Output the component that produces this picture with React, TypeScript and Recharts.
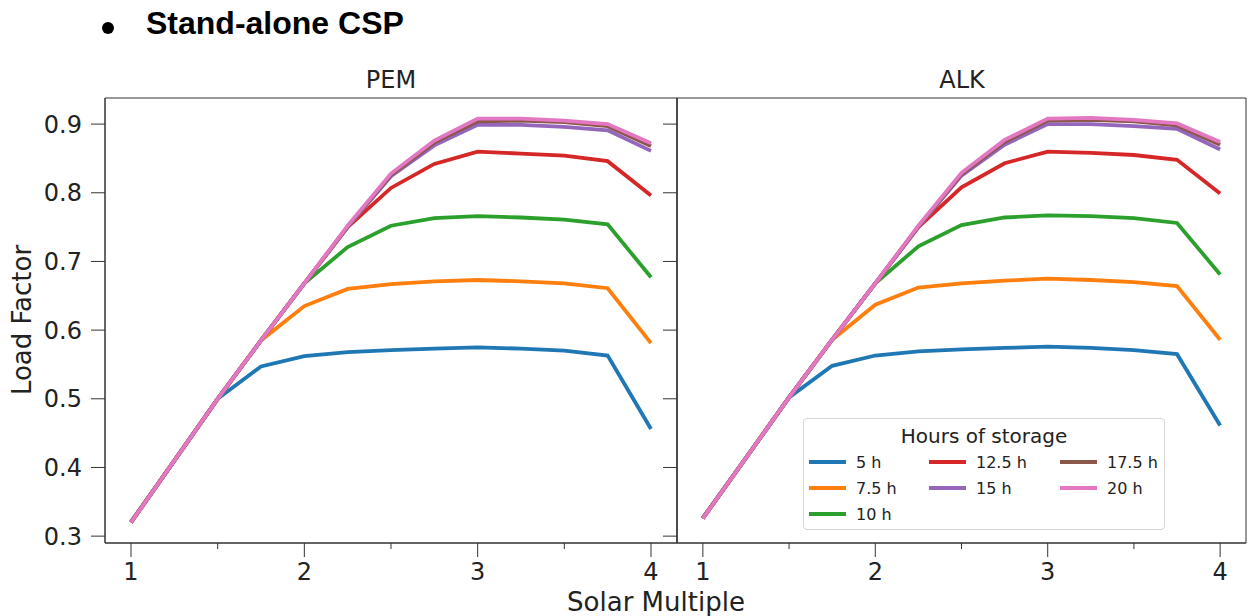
import { LineChart, Line, XAxis, YAxis, ReferenceArea, Legend } from "recharts";

const solarMultiple = [1, 1.25, 1.5, 1.75, 2, 2.25, 2.5, 2.75, 3, 3.25, 3.5, 3.75, 4];
const storageHours = ["5 h", "7.5 h", "10 h", "12.5 h", "15 h", "17.5 h", "20 h"];
const seriesColors = ["#1f77b4", "#ff7f0e", "#2ca02c", "#d62728", "#9467bd", "#8c564b", "#e377c2"];
const yTicks = [0.3, 0.4, 0.5, 0.6, 0.7, 0.8, 0.9];
const xTicks = [1, 1.5, 2, 2.5, 3, 3.5, 4];

// PEM load factor per hours of storage
const pem5h = [0.32, 0.41, 0.5, 0.547, 0.562, 0.568, 0.571, 0.573, 0.575, 0.573, 0.57, 0.563, 0.456];
const pem7h = [0.32, 0.41, 0.5, 0.585, 0.635, 0.66, 0.667, 0.671, 0.673, 0.671, 0.668, 0.661, 0.581];
const pem10h = [0.32, 0.41, 0.5, 0.585, 0.668, 0.721, 0.752, 0.763, 0.766, 0.764, 0.761, 0.754, 0.677];
const pem12h = [0.32, 0.41, 0.5, 0.585, 0.668, 0.75, 0.807, 0.842, 0.86, 0.857, 0.854, 0.846, 0.796];
const pem15h = [0.32, 0.41, 0.5, 0.585, 0.668, 0.75, 0.824, 0.869, 0.899, 0.899, 0.896, 0.891, 0.861];
const pem17h = [0.321, 0.41, 0.5, 0.585, 0.668, 0.751, 0.826, 0.873, 0.904, 0.905, 0.903, 0.897, 0.868];
const pem20h = [0.32, 0.41, 0.5, 0.585, 0.668, 0.752, 0.828, 0.876, 0.908, 0.908, 0.905, 0.9, 0.872];

// ALK load factor per hours of storage
const alk5h = [0.326, 0.414, 0.502, 0.548, 0.563, 0.569, 0.572, 0.574, 0.576, 0.574, 0.571, 0.565, 0.461];
const alk7h = [0.326, 0.414, 0.502, 0.586, 0.637, 0.662, 0.668, 0.672, 0.675, 0.673, 0.67, 0.664, 0.586];
const alk10h = [0.326, 0.414, 0.502, 0.586, 0.668, 0.722, 0.753, 0.764, 0.767, 0.766, 0.763, 0.756, 0.681];
const alk12h = [0.326, 0.414, 0.502, 0.586, 0.668, 0.75, 0.808, 0.843, 0.86, 0.858, 0.855, 0.848, 0.799];
const alk15h = [0.326, 0.414, 0.502, 0.586, 0.668, 0.75, 0.825, 0.87, 0.9, 0.9, 0.897, 0.893, 0.863];
const alk17h = [0.327, 0.414, 0.502, 0.586, 0.668, 0.751, 0.827, 0.874, 0.905, 0.906, 0.904, 0.898, 0.87];
const alk20h = [0.326, 0.414, 0.502, 0.586, 0.668, 0.752, 0.829, 0.877, 0.908, 0.909, 0.906, 0.901, 0.874];

const pemSeries = [pem5h, pem7h, pem10h, pem12h, pem15h, pem17h, pem20h];
const alkSeries = [alk5h, alk7h, alk10h, alk12h, alk15h, alk17h, alk20h];

const FONT = "DejaVu Sans, sans-serif";
const X_DOMAIN = [0.85, 4.15];
const Y_DOMAIN = [0.29, 0.938];

function buildRows(series: number[][]) {
  return solarMultiple.map((sm, i) => {
    const row: Record<string, number> = { sm };
    series.forEach((s, k) => {
      row[`s${k}`] = s[i];
    });
    return row;
  });
}

function XTick(props: any) {
  const { x, y, payload } = props;
  const major = Number.isInteger(payload.value);
  return (
    <g>
      <line x1={x} x2={x} y1={y} y2={y + (major ? 14 : 6)} stroke="#333" />
      {major && (
        <text x={x} y={y + 20} dy="0.71em" textAnchor="middle" fontSize={24} fontFamily={FONT} fill="#222">
          {payload.value}
        </text>
      )}
    </g>
  );
}

// matplotlib style column fill: first columns get the extra entries
function legendSlots(n: number, ncol: number) {
  const base = Math.floor(n / ncol);
  const extra = n % ncol;
  const slots: { col: number; row: number }[] = [];
  for (let c = 0; c < ncol; c++) {
    const rows = base + (c < extra ? 1 : 0);
    for (let r = 0; r < rows; r++) slots.push({ col: c, row: r });
  }
  return slots;
}

function StorageLegend() {
  const slots = legendSlots(storageHours.length, 3);
  const colX = [5, 125, 256];
  return (
    <div
      style={{
        position: "relative",
        width: 362,
        height: 112,
        boxSizing: "border-box",
        border: "1px solid #d6d6d6",
        borderRadius: 4,
        background: "rgba(255,255,255,0.85)",
        fontFamily: FONT,
        color: "#222",
      }}
    >
      <div style={{ position: "absolute", left: 0, right: 0, top: 4, textAlign: "center", fontSize: 20, lineHeight: "26px" }}>
        Hours of storage
      </div>
      {storageHours.map((name, i) => {
        const { col, row } = slots[i];
        return (
          <div
            key={name}
            style={{ position: "absolute", left: colX[col], top: 30 + row * 26, height: 26, display: "flex", alignItems: "center" }}
          >
            <span style={{ display: "inline-block", width: 37, height: 4, background: seriesColors[i] }} />
            <span style={{ marginLeft: 10, fontSize: 16, whiteSpace: "nowrap" }}>{name}</span>
          </div>
        );
      })}
    </div>
  );
}

interface PanelProps {
  series: number[][];
  left: number;
  width: number;
  yAxisWidth: number;
  rightMargin: number;
  showYLabels: boolean;
  showLegend: boolean;
}

function Panel({ series, left, width, yAxisWidth, rightMargin, showYLabels, showLegend }: PanelProps) {
  const data = buildRows(series);
  return (
    <div style={{ position: "absolute", left, top: 0 }}>
      <LineChart width={width} height={616} data={data} margin={{ top: 98, right: rightMargin, bottom: 43, left: 0 }}>
        <XAxis
          dataKey="sm"
          type="number"
          domain={X_DOMAIN}
          allowDataOverflow
          ticks={xTicks}
          interval={0}
          height={30}
          tickSize={0}
          tickMargin={0}
          tickLine={false}
          axisLine={{ stroke: "#333" }}
          tick={<XTick />}
        />
        <YAxis
          type="number"
          domain={Y_DOMAIN}
          allowDataOverflow
          ticks={yTicks}
          interval={0}
          width={yAxisWidth}
          tickSize={14}
          tickMargin={9}
          tickLine={{ stroke: "#333" }}
          axisLine={{ stroke: "#333" }}
          tickFormatter={(v: number) => v.toFixed(1)}
          tick={showYLabels ? { fontSize: 24, fontFamily: FONT, fill: "#222" } : () => <g />}
        />
        {series.map((_, k) => (
          <Line
            key={k}
            type="linear"
            dataKey={`s${k}`}
            name={storageHours[k]}
            stroke={seriesColors[k]}
            strokeWidth={3.8}
            dot={false}
            isAnimationActive={false}
          />
        ))}
        <ReferenceArea
          x1={X_DOMAIN[0]}
          x2={X_DOMAIN[1]}
          y1={Y_DOMAIN[0]}
          y2={Y_DOMAIN[1]}
          fill="none"
          stroke="#333"
          strokeWidth={1}
          ifOverflow="visible"
        />
        {showLegend && (
          <Legend
            layout="horizontal"
            verticalAlign="middle"
            align="center"
            content={() => <StorageLegend />}
            wrapperStyle={{ position: "absolute", left: 803 - left, top: 418, width: 362, height: 112 }}
          />
        )}
      </LineChart>
    </div>
  );
}

export default function App() {
  return (
    <div style={{ position: "absolute", left: 0, top: 0, width: 1247, height: 616, background: "#fff", overflow: "hidden" }}>
      <div
        style={{
          position: "absolute",
          left: 102,
          top: 22,
          width: 12,
          height: 12,
          borderRadius: "50%",
          background: "#000",
        }}
      />
      <div
        style={{
          position: "absolute",
          left: 146,
          top: 5,
          fontFamily: "Liberation Sans, Arial, sans-serif",
          fontWeight: "bold",
          fontSize: 32,
          color: "#000",
          whiteSpace: "nowrap",
        }}
      >
        Stand-alone CSP
      </div>
      <Panel series={pemSeries} left={0} width={680} yAxisWidth={105} rightMargin={3} showYLabels showLegend={false} />
      <Panel series={alkSeries} left={600} width={647} yAxisWidth={77} rightMargin={1} showYLabels={false} showLegend />
      <svg width={1247} height={616} style={{ position: "absolute", left: 0, top: 0, pointerEvents: "none" }}>
        <text x={391} y={88} textAnchor="middle" fontSize={24} fontFamily={FONT} fill="#222">
          PEM
        </text>
        <text x={962} y={88} textAnchor="middle" fontSize={24} fontFamily={FONT} fill="#222">
          ALK
        </text>
        <text x={656} y={611} textAnchor="middle" fontSize={26} fontFamily={FONT} fill="#222">
          Solar Multiple
        </text>
        <text
          x={22}
          y={320}
          textAnchor="middle"
          dominantBaseline="central"
          fontSize={26}
          fontFamily={FONT}
          fill="#222"
          transform="rotate(-90 22 320)"
        >
          Load Factor
        </text>
      </svg>
    </div>
  );
}
